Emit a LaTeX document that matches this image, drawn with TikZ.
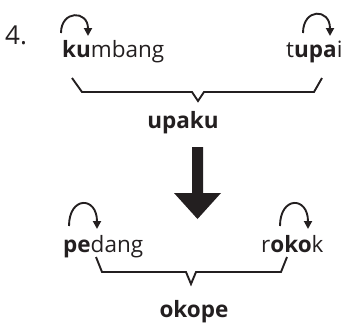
\documentclass[tikz,border=0pt]{standalone}
\usepackage{fontspec}
\setmainfont{Open Sans}
\usetikzlibrary{arrows.meta}
\definecolor{ink}{HTML}{231F20}
\begin{document}
\begin{tikzpicture}[x=1pt,y=-1pt,
  word/.style={anchor=base west,inner sep=0pt,text=ink,font=\fontsize{22.5}{26}\selectfont},
  res/.style={anchor=base,inner sep=0pt,text=ink,font=\fontsize{22.5}{26}\selectfont\bfseries},
  hop/.style={draw=ink,line width=1.9pt,-{Triangle[length=8pt,width=8pt]}},
  brace/.style={draw=ink,line width=1.9pt,line join=miter},
  bigarrow/.style={fill=ink}]
\useasboundingbox (0,0) rectangle (346,325);
\node[word,font=\fontsize{26}{30}\selectfont] (num) at (5,44) {4.};
\node[word] (w1) at (62,57) {\textbf{ku}mbang};
\node[word] (w2) at (286,57) {t\textbf{upa}i};
\node[res] (r1) at (183,128) {upaku};
\node[word] (w3) at (63,252) {\textbf{pe}dang};
\node[word] (w4) at (261,252) {r\textbf{oko}k};
\node[res] (r2) at (194,317) {okope};
% hop arcs
\coordinate (a1s) at (61,33); \coordinate (a1e) at (88,36);
\draw[hop] (a1s) .. controls (61,10) and (88,10) .. (a1e);
\coordinate (a2s) at (303,33); \coordinate (a2e) at (330,36);
\draw[hop] (a2s) .. controls (303,8) and (330,8) .. (a2e);
\coordinate (a3s) at (69,226); \coordinate (a3e) at (97,229);
\draw[hop] (a3s) .. controls (69,196) and (97,196) .. (a3e);
\coordinate (a4s) at (280,226); \coordinate (a4e) at (308,229);
\draw[hop] (a4s) .. controls (280,196) and (308,196) .. (a4e);
% braces
\draw[brace] (72,78) -- (82,92) -- (192,92) -- (198,101) -- (204,92) -- (314,92) -- (322,78);
\draw[brace] (96,257) -- (102,272) -- (186,272) -- (191,284) -- (196,272) -- (281,272) -- (287,257);
% big arrow
\fill[bigarrow] (192,147) -- (203,147) -- (203,193) -- (221,193) -- (197.5,219) -- (174,193) -- (192,193) -- cycle;
\end{tikzpicture}
\end{document}
